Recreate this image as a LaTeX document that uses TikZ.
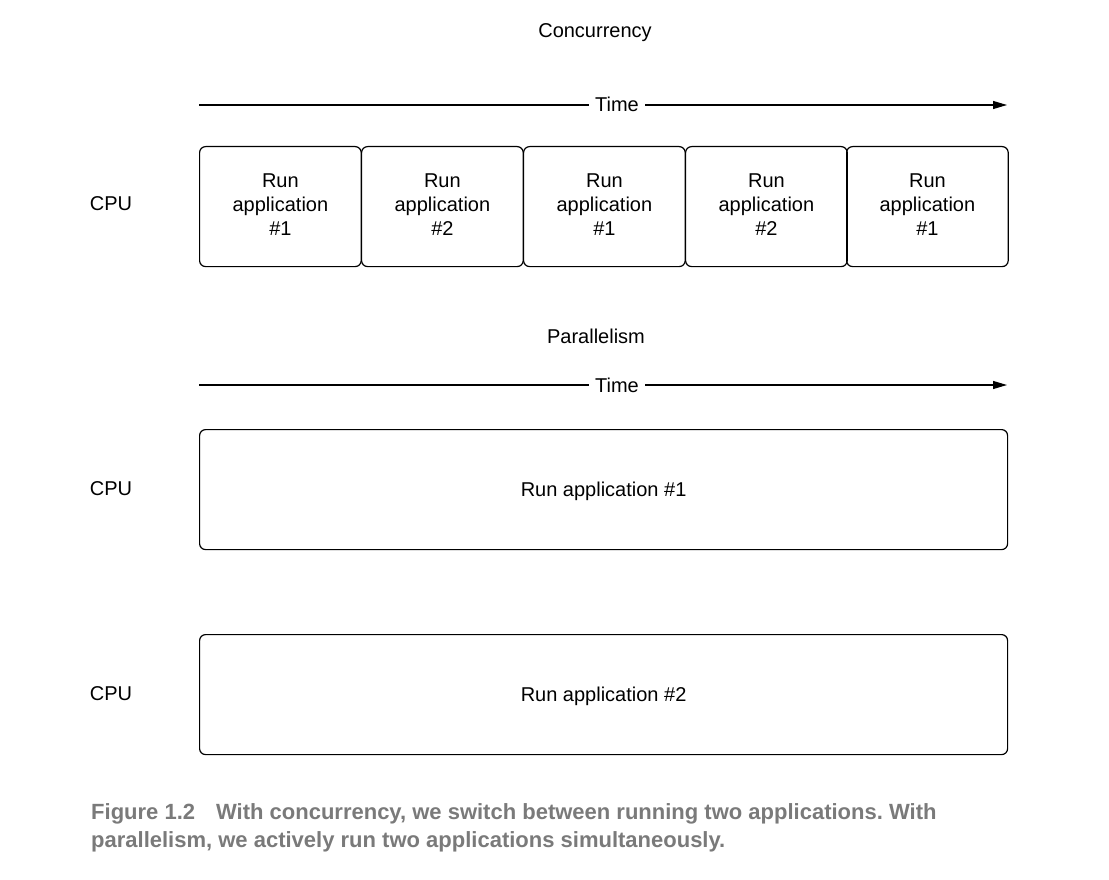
\documentclass[tikz,border=0pt]{standalone}
\usepackage{fontspec}
\setmainfont{Liberation Sans}
\frenchspacing
\usetikzlibrary{arrows.meta}
\definecolor{capgray}{HTML}{7A7A7A}
\begin{document}
\begin{tikzpicture}[x=1pt,y=-1pt,
  every node/.style={font=\fontsize{20}{24}\selectfont, inner sep=0pt},
  lbl/.style={text height=14pt, text depth=0pt},
  slot/.style={draw, line width=1.2pt, rounded corners=6pt, minimum width=161.6pt, minimum height=120pt, anchor=north west},
  slottxt/.style={align=center, yshift=2pt},
  wide/.style={draw, line width=1.2pt, rounded corners=6pt, minimum width=808pt, minimum height=120pt, anchor=north west},
  timeline/.style={line width=1.1pt, -{Triangle[length=14pt,width=8pt]}},
  timelbl/.style={lbl, fill=white, inner xsep=6pt, inner ysep=4pt},
  caption/.style={anchor=base west, text=capgray, font=\bfseries\fontsize{22}{28}\selectfont}]
\useasboundingbox (0,0) rectangle (1109,880);
% Concurrency
\node[lbl] (ttl1) at (595,31) {Concurrency};
\coordinate (a1s) at (199,105);
\coordinate (a1e) at (1007,105);
\node[timelbl] (time1) at (617,105) {Time};
\draw[line width=1.1pt] (a1s) -- (time1.west);
\draw[timeline] (time1.east) -- (a1e);
\node[slot] (c1) at (199,146) {};
\node[slot] (c2) at (361,146) {};
\node[slot] (c3) at (523,146) {};
\node[slot] (c4) at (685,146) {};
\node[slot] (c5) at (846,146) {};
\node[slottxt] (c1t) at (c1.center) {Run\\application\\\#1};
\node[slottxt] (c2t) at (c2.center) {Run\\application\\\#2};
\node[slottxt] (c3t) at (c3.center) {Run\\application\\\#1};
\node[slottxt] (c4t) at (c4.center) {Run\\application\\\#2};
\node[slottxt] (c5t) at (c5.center) {Run\\application\\\#1};
\node[lbl] (cpu1) at (111,204) {CPU};
% Parallelism
\node[lbl] (ttl2) at (596,336) {Parallelism};
\coordinate (a2s) at (199,385);
\coordinate (a2e) at (1007,385);
\node[timelbl] (time2) at (617,385) {Time};
\draw[line width=1.1pt] (a2s) -- (time2.west);
\draw[timeline] (time2.east) -- (a2e);
\node[wide] (p1) at (199,429) {};
\node[lbl] (p1t) at (p1.center) {Run application \#1};
\node[lbl] (cpu2) at (111,488) {CPU};
\node[wide] (p2) at (199,634) {};
\node[lbl] (p2t) at (p2.center) {Run application \#2};
\node[lbl] (cpu3) at (111,693) {CPU};
% Caption
\node[caption] (cap1) at (91,819) {Figure 1.2\hspace{21pt}With concurrency, we switch between running two applications. With};
\node[caption] (cap2) at (91,847) {parallelism, we actively run two applications simultaneously.};
\end{tikzpicture}
\end{document}
